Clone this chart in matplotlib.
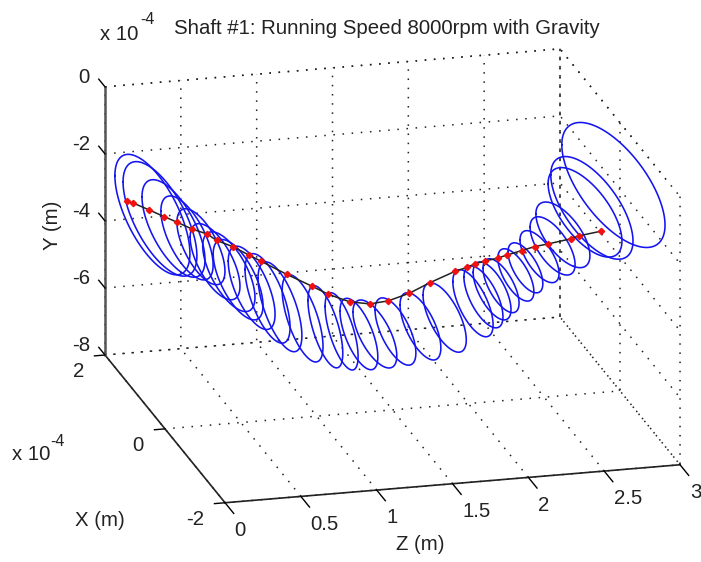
import numpy as np
import matplotlib
matplotlib.use("Agg")
import matplotlib.pyplot as plt
from matplotlib.transforms import Affine2D
from mpl_toolkits.mplot3d import proj3d

plt.rcParams['font.family'] = ['Liberation Sans', 'DejaVu Sans']

TITLE = "Shaft #1: Running Speed 8000rpm with Gravity"
z_ticks = [0, 0.5, 1, 1.5, 2, 2.5, 3]
z_labels = ['0', '0.5', '1', '1.5', '2', '2.5', '3']
x_ticks = [-2, 0, 2]
x_labels = ['-2', '0', '2']
y_ticks = [-8, -6, -4, -2, 0]
y_labels = ['-8', '-6', '-4', '-2', '0']

# stations along the shaft (Z in m; X, Y in 1e-4 m)
station_z = [0, .042, .143, .236, .320, .411, .510, .569, .674, .773, .853, 1.012, 1.176, 1.275, 1.409, 1.538,
             1.654, 1.787, 1.917, 2.076, 2.149, 2.202, 2.265, 2.345, 2.406, 2.497, 2.581, 2.665, 2.807, 2.858, 3.0]
station_x = [1.28, 1.27, 1.25, 1.23, 1.21, 1.19, 1.17, 1.16, 1.13, 1.11, 1.10, 1.06, 1.03, 1.00, .97, .95,
             .92, .89, .86, .83, .81, .80, .79, .77, .76, .74, .72, .70, .67, .66, .63]
station_y = [-2.61, -2.68, -2.90, -3.11, -3.29, -3.50, -3.67, -3.87, -4.07, -4.33, -4.54, -4.94, -5.33, -5.57, -5.81, -5.90,
             -5.82, -5.61, -5.31, -5.00, -4.89, -4.79, -4.72, -4.64, -4.56, -4.44, -4.33, -4.26, -4.13, -4.05, -3.93]
# whirl orbits at each station
orbit_cx = [.42, .38, .44, .46, .42, .41, .45, .44, .52, .49, .48, .53, .60, .56, .66, .78,
            .68, .52, .37, .23, .25, .23, .25, .16, .15, .14, .13, .21, .19, .22, .22]
orbit_cy = [-2.07, -2.17, -2.56, -2.90, -3.15, -3.62, -4.00, -4.25, -4.62, -4.94, -5.21, -5.67, -6.06, -6.19, -6.43, -6.61,
            -6.47, -6.19, -5.81, -5.29, -5.15, -4.97, -4.86, -4.47, -4.27, -3.96, -3.66, -3.45, -2.81, -2.73, -2.10]
orbit_ax = [1.25, 1.23, 1.05, .87, .80, .83, .87, .83, .78, .75, .73, .68, .58, .55, .63, .73,
            .68, .68, .72, .67, .65, .63, .60, .60, .58, .65, .75, .90, 1.23, 1.37, 1.72]
orbit_ay = [1.39, 1.33, 1.13, .97, .88, .89, .93, .93, .96, 1.02, 1.03, 1.00, .95, .89, .82, .79,
            .78, .78, .80, .77, .72, .68, .63, .62, .60, .63, .72, .84, 1.14, 1.28, 1.59]
orbit_phase = [99, 101, 101, 99, 100, 102, 102, 99, 94, 88, 87, 85, 81, 81, 91, 101,
               98, 98, 99, 97, 100, 102, 103, 105, 106, 110, 112, 116, 116, 114, 116]

W, H = 701, 562
fig = plt.figure(figsize=(W / 100, H / 100), dpi=100)
ax = fig.add_axes([0, 0, 1, 1], projection='3d', proj_type='ortho', computed_zorder=False)
ax.view_init(elev=18.7, azim=-104.6)
ax.set_xlim(0, 3, view_margin=0)
ax.set_ylim(-2, 2, view_margin=0)
ax.set_zlim(-8, 0, view_margin=0)
aspect = (470, 476, 283)
ax.set_box_aspect(aspect)

t = np.linspace(0, 2 * np.pi, 121)
for z, cx, cy, a, b, ph in zip(station_z, orbit_cx, orbit_cy, orbit_ax, orbit_ay, orbit_phase):
    ax.plot(np.full_like(t, z), cx + a * np.cos(t), cy + b * np.cos(t + np.radians(ph)),
            color='#1414f0', lw=1.15, zorder=3)
ax.plot(station_z, station_x, station_y, color='#222222', lw=1.1, zorder=4)
ax.plot(station_z, station_x, station_y, ls='none', marker='D', ms=3.2, mfc='#f01010', mec='#f01010', zorder=5)

# dotted outer box edges
dots = dict(color='#222222', lw=1.1, ls=(0, (1, 5)), zorder=1)
ax.plot([0, 3, 3], [2, 2, -2], [0, 0, 0], **dots)
ax.plot([3, 3], [-2, -2], [-8, 0], **dots)
ax.plot([3, 3], [2, 2], [-8, 0], **dots)

ax.set_xticks(z_ticks, z_labels)
ax.set_yticks(x_ticks, x_labels)
ax.set_zticks(y_ticks, y_labels)
for axis, inward, outward in ((ax.xaxis, 0.9, 0.0), (ax.yaxis, 0.29, 0.0), (ax.zaxis, 0.0, 0.65)):
    axis.set_pane_color((1, 1, 1, 0))
    axis.pane.set_edgecolor((1, 1, 1, 0))
    axis._axinfo['grid'].update(color='#222222', linewidth=1.1, linestyle=(0, (1, 5)))
    axis._axinfo['tick'].update(inward_factor=inward, outward_factor=outward, linewidth={True: 1.0, False: 0.5})
    axis._axinfo['axisline']['color'] = (0.1, 0.1, 0.1, 1)
    axis.line.set_color('#222222')
    axis.line.set_linewidth(1.2)
ax.zaxis.line.set_color('#555555')
ax.zaxis.line.set_linewidth(1.8)
# the vertical axis ticks run along the X direction, as in the reference
ax.zaxis._get_tickdir = lambda position: 1
ax.tick_params(axis='both', labelsize=14.7, labelcolor='#222222', pad=0)
ax.tick_params(axis='x', pad=2)
ax.tick_params(axis='y', pad=2.5)
ax.tick_params(axis='z', pad=-5)
for lbl in ax.xaxis.get_ticklabels():
    lbl.set_ha('left')
for lbl in ax.yaxis.get_ticklabels():
    lbl.set_ha('right')
    lbl.set_va('center')
for lbl in ax.zaxis.get_ticklabels():
    lbl.set_ha('right')
    lbl.set_va('center')


def nudge_labels(axis, dx, dy):
    """Shift an axis's tick labels by pixels; Axis3D resets their transform on every fetch."""
    original = axis.get_major_ticks

    def get_major_ticks(numticks=None):
        ticks = original(numticks)
        for tk in ticks:
            tk.label1.set_transform(ax.transData + Affine2D().translate(dx, dy))
        return ticks
    axis.get_major_ticks = get_major_ticks


nudge_labels(ax.xaxis, 4, 1.5)
nudge_labels(ax.yaxis, 1.5, -1.5)
nudge_labels(ax.zaxis, -7, 7.5)


def screen(zv, xv, yv):
    p, q, _ = proj3d.proj_transform(zv, xv, yv, ax.get_proj())
    return ax.transData.transform((p, q))


# fit the 3D box to the reference's frame
fig.canvas.draw()
span = screen(3, -2, -8)[0] - screen(0, -2, -8)[0]
ax.set_box_aspect(aspect, zoom=455 / span)
fig.canvas.draw()
px, py = screen(0, 2, -8)
ax.set_position([(105 - px) / W, (H - 355 - py) / H, 1, 1])

tx = dict(color='#222222', fontsize=14.7)
fig.text(387 / W, 1 - 28 / H, TITLE, ha='center', va='center', **tx)
fig.text(100 / W, 1 - 34 / H, 'x 10', ha='left', va='center', **tx)
fig.text(140 / W, 1 - 20 / H, '-4', ha='left', va='center', color='#222222', fontsize=11.5)
fig.text(12 / W, 1 - 455 / H, 'x 10', ha='left', va='center', **tx)
fig.text(50 / W, 1 - 442 / H, '-4', ha='left', va='center', color='#222222', fontsize=11.5)
fig.text(100 / W, 1 - 520 / H, 'X (m)', ha='center', va='center', **tx)
fig.text(420 / W, 1 - 544 / H, 'Z (m)', ha='center', va='center', **tx)
fig.text(52 / W, 1 - 225 / H, 'Y (m)', ha='center', va='center', rotation=90, **tx)

fig.savefig('out.png', dpi=100)
